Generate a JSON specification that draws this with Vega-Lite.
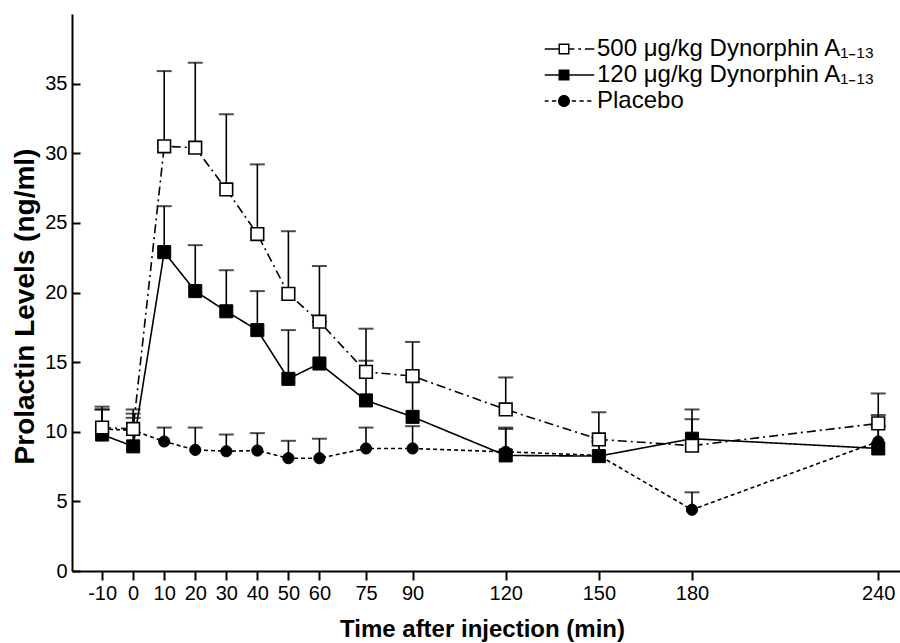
{
  "$schema": "https://vega.github.io/schema/vega-lite/v6.json",
  "width": 828,
  "height": 557,
  "autosize": {"type": "none"},
  "padding": {"left": 72, "top": 14, "right": 0, "bottom": 72},
  "background": "white",
  "config": {
    "view": {"stroke": null},
    "font": "Liberation Sans",
    "axis": {"domainColor": "black", "domainWidth": 2, "tickColor": "black", "tickWidth": 2, "labelColor": "black", "titleColor": "black", "grid": false}
  },
  "data": {
    "values": [
      {"t": -10, "series": "500 μg/kg Dynorphin A₁₋₁₃", "mean": 10.3, "top": 11.8},
      {"t": 0, "series": "500 μg/kg Dynorphin A₁₋₁₃", "mean": 10.2, "top": 11.6},
      {"t": 10, "series": "500 μg/kg Dynorphin A₁₋₁₃", "mean": 30.5, "top": 35.9},
      {"t": 20, "series": "500 μg/kg Dynorphin A₁₋₁₃", "mean": 30.4, "top": 36.5},
      {"t": 30, "series": "500 μg/kg Dynorphin A₁₋₁₃", "mean": 27.4, "top": 32.8},
      {"t": 40, "series": "500 μg/kg Dynorphin A₁₋₁₃", "mean": 24.2, "top": 29.2},
      {"t": 50, "series": "500 μg/kg Dynorphin A₁₋₁₃", "mean": 19.9, "top": 24.4},
      {"t": 60, "series": "500 μg/kg Dynorphin A₁₋₁₃", "mean": 17.9, "top": 21.9},
      {"t": 75, "series": "500 μg/kg Dynorphin A₁₋₁₃", "mean": 14.3, "top": 17.4},
      {"t": 90, "series": "500 μg/kg Dynorphin A₁₋₁₃", "mean": 14.0, "top": 16.45},
      {"t": 120, "series": "500 μg/kg Dynorphin A₁₋₁₃", "mean": 11.6, "top": 13.9},
      {"t": 150, "series": "500 μg/kg Dynorphin A₁₋₁₃", "mean": 9.45, "top": 11.4},
      {"t": 180, "series": "500 μg/kg Dynorphin A₁₋₁₃", "mean": 9.0, "top": 11.6},
      {"t": 240, "series": "500 μg/kg Dynorphin A₁₋₁₃", "mean": 10.6, "top": 12.75},
      {"t": -10, "series": "120 μg/kg Dynorphin A₁₋₁₃", "mean": 9.8, "top": 11.6},
      {"t": 0, "series": "120 μg/kg Dynorphin A₁₋₁₃", "mean": 8.95, "top": 11.3},
      {"t": 10, "series": "120 μg/kg Dynorphin A₁₋₁₃", "mean": 22.9, "top": 26.2},
      {"t": 20, "series": "120 μg/kg Dynorphin A₁₋₁₃", "mean": 20.1, "top": 23.4},
      {"t": 30, "series": "120 μg/kg Dynorphin A₁₋₁₃", "mean": 18.65, "top": 21.6},
      {"t": 40, "series": "120 μg/kg Dynorphin A₁₋₁₃", "mean": 17.3, "top": 20.1},
      {"t": 50, "series": "120 μg/kg Dynorphin A₁₋₁₃", "mean": 13.8, "top": 17.3},
      {"t": 60, "series": "120 μg/kg Dynorphin A₁₋₁₃", "mean": 14.9, "top": 17.9},
      {"t": 75, "series": "120 μg/kg Dynorphin A₁₋₁₃", "mean": 12.25, "top": 15.1},
      {"t": 90, "series": "120 μg/kg Dynorphin A₁₋₁₃", "mean": 11.07, "top": 13.8},
      {"t": 120, "series": "120 μg/kg Dynorphin A₁₋₁₃", "mean": 8.3, "top": 10.3},
      {"t": 150, "series": "120 μg/kg Dynorphin A₁₋₁₃", "mean": 8.25, "top": 9.6},
      {"t": 180, "series": "120 μg/kg Dynorphin A₁₋₁₃", "mean": 9.5, "top": 10.9},
      {"t": 240, "series": "120 μg/kg Dynorphin A₁₋₁₃", "mean": 8.8, "top": 11.2},
      {"t": -10, "series": "Placebo", "mean": 10.2, "top": 11.6},
      {"t": 0, "series": "Placebo", "mean": 10.1, "top": 11.0},
      {"t": 10, "series": "Placebo", "mean": 9.3, "top": 10.3},
      {"t": 20, "series": "Placebo", "mean": 8.7, "top": 10.3},
      {"t": 30, "series": "Placebo", "mean": 8.6, "top": 9.8},
      {"t": 40, "series": "Placebo", "mean": 8.65, "top": 9.9},
      {"t": 50, "series": "Placebo", "mean": 8.1, "top": 9.35},
      {"t": 60, "series": "Placebo", "mean": 8.1, "top": 9.5},
      {"t": 75, "series": "Placebo", "mean": 8.8, "top": 10.3},
      {"t": 90, "series": "Placebo", "mean": 8.8, "top": 10.4},
      {"t": 120, "series": "Placebo", "mean": 8.56, "top": 10.2},
      {"t": 150, "series": "Placebo", "mean": 8.3, "top": 9.3},
      {"t": 180, "series": "Placebo", "mean": 4.4, "top": 5.65},
      {"t": 240, "series": "Placebo", "mean": 9.3, "top": 10.4}
    ]
  },
  "encoding": {
    "x": {
      "field": "t", "type": "quantitative",
      "scale": {"domain": [-19.7, 247], "nice": false, "zero": false},
      "axis": {
        "values": [-10, 0, 10, 20, 30, 40, 50, 60, 75, 90, 120, 150, 180, 240],
        "labelExpr": "'' + datum.value",
        "title": "Time after injection (min)",
        "titleFontSize": 24, "titleFontWeight": "bold",
        "titleX": 410, "titleY": 65, "titleBaseline": "alphabetic", "titleAnchor": "middle",
        "labelFontSize": 20, "tickSize": 9, "labelPadding": 3,
        "labelFlush": false, "labelOverlap": false
      }
    }
  },
  "layer": [
    {
      "mark": {"type": "point", "filled": true, "color": "black", "opacity": 0, "size": 1},
      "encoding": {
        "y": {
          "field": "mean", "type": "quantitative",
          "scale": {"domain": [0, 40], "nice": false},
          "axis": {
            "values": [0, 5, 10, 15, 20, 25, 30, 35],
            "title": "Prolactin Levels (ng/ml)",
            "titleFontSize": 28, "titleFontWeight": "bold",
            "titleX": -47, "titleY": 292, "titleAngle": -90, "titleBaseline": "middle", "titleAnchor": "middle",
            "labelFontSize": 20, "tickSize": -8, "labelPadding": 13
          }
        },
        "shape": {
          "field": "series", "type": "nominal",
          "scale": {
            "domain": ["500 μg/kg Dynorphin A₁₋₁₃", "120 μg/kg Dynorphin A₁₋₁₃", "Placebo"],
            "range": [
              "M-3.5,-0.14H-1V0.14H-3.5ZM-1,-1H1V1H-1ZM-0.74,-0.74V0.74H0.74V-0.74ZM1,-0.14H1.9V0.14H1ZM2.6,-0.14H3.1V0.14H2.6ZM3.8,-0.14H5.5V0.14H3.8Z",
              "M-3.5,-0.14H5.5V0.14H-3.5ZM-1,-1H1V1H-1Z",
              "M-3.5,-0.14H-2.8V0.14H-3.5ZM-2.2,-0.14H-1.4V0.14H-2.2ZM1.4,-0.14H2.2V0.14H1.4ZM2.8,-0.14H3.6V0.14H2.8ZM4.2,-0.14H5V0.14H4.2ZM-1.1,0A1.1,1.1,0,1,1,1.1,0A1.1,1.1,0,1,1,-1.1,0Z"
            ]
          },
          "legend": {
            "orient": "none", "legendX": 480, "legendY": 23,
            "padding": 0, "title": null,
            "labelFontSize": 24, "labelFont": "Liberation Sans", "labelColor": "black",
            "labelOffset": 21, "rowPadding": 2, "symbolSize": 121,
            "symbolOpacity": 1, "labelLimit": 400
          }
        },
        "fill": {
          "field": "series", "type": "nominal",
          "scale": {
            "domain": ["500 μg/kg Dynorphin A₁₋₁₃", "120 μg/kg Dynorphin A₁₋₁₃", "Placebo"],
            "range": ["black", "black", "black"]
          },
          "legend": {
            "orient": "none", "legendX": 480, "legendY": 23,
            "padding": 0, "title": null,
            "labelFontSize": 24, "labelFont": "Liberation Sans", "labelColor": "black",
            "labelOffset": 21, "rowPadding": 2, "symbolSize": 121,
            "symbolOpacity": 1, "labelLimit": 400
          }
        }
      }
    },
    {
      "data": {"values": [{"note": "n=10"}]},
      "mark": {"type": "text", "font": "Liberation Sans", "fontSize": 24, "color": "black", "align": "left", "baseline": "middle"},
      "encoding": {
        "x": {"datum": 150},
        "y": {"datum": 32.06},
        "text": {"field": "note", "type": "nominal"}
      }
    },
    {
      "mark": {"type": "line", "color": "black", "strokeWidth": 1.6},
      "encoding": {
        "y": {"field": "mean", "type": "quantitative"},
        "strokeDash": {
          "field": "series", "type": "nominal",
          "scale": {
            "domain": ["500 μg/kg Dynorphin A₁₋₁₃", "120 μg/kg Dynorphin A₁₋₁₃", "Placebo"],
            "range": [[9, 4, 2, 4], [1, 0], [4, 3]]
          },
          "legend": null
        }
      }
    },
    {
      "mark": {"type": "rule", "color": "black", "strokeWidth": 1.6},
      "encoding": {
        "y": {"field": "mean", "type": "quantitative"},
        "y2": {"field": "top"},
        "detail": {"field": "series"}
      }
    },
    {
      "mark": {"type": "tick", "color": "black", "orient": "horizontal", "size": 15, "thickness": 2},
      "encoding": {
        "y": {"field": "top", "type": "quantitative"}
      }
    },
    {
      "transform": [{"filter": "datum.series === 'Placebo'"}],
      "mark": {"type": "point", "shape": "circle", "filled": true, "fill": "black", "stroke": "black", "strokeWidth": 1, "size": 125, "opacity": 1},
      "encoding": {
        "y": {"field": "mean", "type": "quantitative"}
      }
    },
    {
      "transform": [{"filter": "indexof(datum.series, '120') === 0"}],
      "mark": {"type": "point", "shape": "square", "filled": true, "fill": "black", "stroke": "black", "strokeWidth": 1, "size": 170, "opacity": 1},
      "encoding": {
        "y": {"field": "mean", "type": "quantitative"}
      }
    },
    {
      "transform": [{"filter": "indexof(datum.series, '500') === 0"}],
      "mark": {"type": "point", "shape": "square", "filled": true, "fill": "white", "stroke": "black", "strokeWidth": 1.6, "size": 160, "opacity": 1},
      "encoding": {
        "y": {"field": "mean", "type": "quantitative"}
      }
    }
  ]
}
